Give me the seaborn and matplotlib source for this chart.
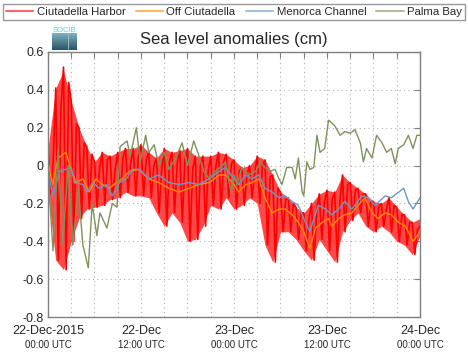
import numpy as np
import pandas as pd
import matplotlib
matplotlib.use('Agg')
import matplotlib.pyplot as plt
from matplotlib.ticker import MultipleLocator
import seaborn as sns

# Sea level anomalies, 22-Dec-2015 00:00 UTC -> 24-Dec-2015 00:00 UTC (hours from start)

# Ciutadella Harbor: 20 min steps
harbor = [
    0.09, -0.15, 0.02,  0.41, -0.50, 0.30,  0.52, -0.55, 0.44,  0.34, -0.40, 0.22,
    0.20, -0.28, 0.12,  0.10, -0.23, 0.06,  0.02, -0.22, -0.01, 0.07, -0.21, 0.03,
    0.05, -0.18, -0.02, 0.07, -0.17, 0.04,  0.09, -0.14, 0.01,  0.09, -0.16, 0.05,
    0.11, -0.16, 0.03,  0.07, -0.17, 0.00,  0.04, -0.25, -0.02, 0.09, -0.32, 0.02,
    0.07, -0.25, 0.01,  0.08, -0.30, 0.03,  0.09, -0.40, -0.02, 0.05, -0.39, 0.00,
    0.05, -0.32, -0.03, 0.05, -0.21, 0.00,  0.07, -0.23, 0.02,  0.06, -0.17, 0.01,
    0.03, -0.23, -0.03, -0.01, -0.21, -0.05, 0.00, -0.17, -0.04, 0.05, -0.20, 0.00,
    0.03, -0.42, -0.06, -0.05, -0.51, -0.12, -0.14, -0.35, -0.18, -0.17, -0.35, -0.20,
    -0.22, -0.39, -0.25, -0.25, -0.45, -0.28, -0.20, -0.50, -0.24, -0.15, -0.39, -0.19,
    -0.13, -0.45, -0.18, -0.14, -0.51, -0.19, -0.05, -0.35, -0.10, -0.09, -0.29, -0.13,
    -0.12, -0.25, -0.15, -0.15, -0.32, -0.19, -0.19, -0.35, -0.22, -0.20, -0.32, -0.23,
    -0.17, -0.35, -0.21, -0.22, -0.40, -0.26, -0.26, -0.42, -0.30, -0.30, -0.47, -0.34,
    -0.32,
]
harbor_h = [i / 3 for i in range(len(harbor))]

# Ciutadella Harbor hourly envelope (upper / lower edge of the band)
harbor_top = [0.09, 0.41, 0.50, 0.34, 0.20, 0.10, 0.02, 0.07, 0.05, 0.07, 0.09, 0.09,
              0.11, 0.07, 0.04, 0.09, 0.07, 0.08, 0.09, 0.05, 0.05, 0.05, 0.07, 0.06,
              0.03, -0.01, 0.00, 0.05, 0.03, -0.05, -0.14, -0.17, -0.22, -0.25, -0.20,
              -0.15, -0.13, -0.14, -0.05, -0.09, -0.12, -0.15, -0.19, -0.20, -0.17,
              -0.22, -0.26, -0.30, -0.28]
harbor_bot = [-0.15, -0.50, -0.55, -0.40, -0.28, -0.23, -0.22, -0.21, -0.18, -0.17,
              -0.14, -0.16, -0.16, -0.17, -0.25, -0.32, -0.25, -0.30, -0.40, -0.39,
              -0.32, -0.21, -0.23, -0.17, -0.23, -0.21, -0.17, -0.20, -0.42, -0.51,
              -0.35, -0.35, -0.39, -0.45, -0.50, -0.39, -0.45, -0.51, -0.35, -0.29,
              -0.25, -0.32, -0.35, -0.32, -0.35, -0.40, -0.42, -0.47, -0.37]
env_h = list(range(49))

off_h = [0, 0.6, 1.3, 2.3, 3.0, 3.6, 4.5, 5.3, 6.2, 7.0, 7.9, 8.8, 9.6, 10.5, 11.7,
         13.0, 14.3, 15.6, 16.9, 18.2, 19.5, 20.8, 22.1, 22.9, 24.0, 24.6, 25.5, 26.3,
         27.2, 28.0, 28.9, 29.8, 30.6, 31.5, 32.3, 33.0, 33.8, 34.5, 35.4, 36.2, 36.6,
         37.5, 38.3, 39.2, 40.0, 40.9, 41.8, 42.6, 43.5, 44.3, 45.2, 46.1, 47.1, 48.0]
off = [0.02, -0.10, 0.04, 0.07, -0.02, -0.09, -0.07, -0.14, -0.07, -0.10, -0.12, -0.09,
       -0.07, -0.03, -0.02, -0.07, -0.09, -0.12, -0.14, -0.12, -0.10, -0.09, -0.05, -0.05,
       -0.10, -0.14, -0.10, -0.09, -0.07, -0.17, -0.25, -0.23, -0.23, -0.26, -0.30, -0.35,
       -0.44, -0.33, -0.30, -0.28, -0.32, -0.28, -0.26, -0.25, -0.21, -0.17, -0.25, -0.28,
       -0.25, -0.26, -0.30, -0.32, -0.40, -0.35]

channel_h = [0, 0.6, 1.5, 2.3, 3.0, 3.4, 4.5, 5.0, 5.8, 6.6, 7.5, 8.3, 9.2, 10.1, 10.9,
             11.8, 13.0, 14.3, 15.6, 16.9, 18.2, 19.5, 20.8, 22.1, 22.9, 24.0, 24.6, 25.5,
             26.3, 27.2, 28.0, 28.9, 29.8, 30.6, 31.5, 32.3, 33.0, 33.8, 34.3, 34.9, 35.8,
             36.6, 37.5, 38.3, 39.2, 40.5, 41.3, 42.2, 43.5, 44.3, 45.9, 46.5, 47.1, 48.0]
channel = [-0.02, -0.16, -0.03, -0.02, -0.01, -0.09, -0.10, -0.14, -0.09, -0.12, -0.10,
           -0.16, -0.09, -0.07, -0.02, -0.02, -0.07, -0.05, -0.09, -0.10, -0.09, -0.10,
           -0.07, -0.03, -0.01, -0.07, -0.10, -0.05, -0.07, -0.05, -0.12, -0.14, -0.17,
           -0.16, -0.19, -0.21, -0.28, -0.35, -0.28, -0.21, -0.23, -0.26, -0.23, -0.19,
           -0.23, -0.16, -0.17, -0.21, -0.16, -0.17, -0.12, -0.19, -0.23, -0.17]

palma_h = [0, 0.26, 0.65, 1.3, 1.9, 2.6, 3.2, 3.9, 4.5, 5.2, 5.7, 6.3, 6.7, 7.6, 8.3, 8.9,
           9.3, 10.2, 10.6, 11.4, 11.9, 12.6, 13.0, 13.7, 14.3, 15.0, 15.6, 16.5, 17.3,
           18.0, 18.8, 19.5, 20.1, 20.8, 21.6, 22.5, 22.9, 23.6, 24.0, 24.4, 25.0, 25.9,
           26.8, 27.4, 28.0, 28.7, 29.3, 29.8, 30.2, 30.8, 31.5, 31.9, 32.3, 32.8, 33.0,
           33.4, 33.8, 34.3, 34.7, 35.1, 35.7, 36.2, 37.0, 37.7, 38.3, 39.0, 39.6, 40.3,
           40.7, 41.1, 41.8, 42.4, 43.1, 43.7, 44.3, 44.8, 45.2, 45.9, 46.5, 47.1, 47.6, 48.0]
palma = [0.00, -0.20, -0.45, 0.08, -0.42, 0.00, -0.42, -0.12, -0.42, -0.54, -0.20, -0.37,
         -0.25, -0.33, -0.20, -0.22, 0.10, 0.13, 0.05, 0.20, 0.02, 0.16, 0.07, 0.11, 0.00,
         0.07, -0.02, 0.04, 0.12, 0.00, 0.13, 0.05, -0.03, -0.07, -0.03, 0.00, 0.02, -0.14,
         -0.05, -0.10, -0.01, -0.05, -0.03, 0.02, -0.01, -0.03, -0.02, -0.07, -0.10, -0.01,
         -0.01, -0.07, 0.04, -0.14, -0.16, 0.02, -0.02, -0.01, 0.16, 0.07, 0.09, 0.24, 0.21,
         0.16, 0.18, 0.17, 0.19, 0.12, 0.02, 0.09, 0.04, 0.16, 0.12, 0.07, 0.09, 0.01, 0.09,
         0.11, 0.16, 0.09, 0.16, 0.16]

tick_hours = [0, 12, 24, 36, 48]
tick_dates = ['22-Dec-2015', '22-Dec', '23-Dec', '23-Dec', '24-Dec']
tick_times = ['00:00 UTC', '12:00 UTC', '00:00 UTC', '12:00 UTC', '00:00 UTC']

series = [
    ('Ciutadella Harbor', harbor_h, harbor, '#ff0000', 1.2),
    ('Off Ciutadella', off_h, off, '#ff8a00', 1.0),
    ('Menorca Channel', channel_h, channel, '#6a98c8', 1.0),
    ('Palma Bay', palma_h, palma, '#7f925a', 1.0),
]

sns.set_style("white")
plt.rcParams['font.family'] = ['Liberation Sans', 'DejaVu Sans']

fig = plt.figure(figsize=(4.68, 3.53), dpi=100)
ax = fig.add_axes([48 / 468, 1 - 317 / 353, 372 / 468, 265 / 353])

# harbor band (dense high-frequency signal)
ax.fill_between(env_h, harbor_bot, harbor_top, color='#ff1a1a', alpha=0.8, linewidth=0)

for name, hh, vv, col, lw in series:
    df = pd.DataFrame({'hour': hh, 'value': vv})
    sns.lineplot(data=df, x='hour', y='value', ax=ax, color=col, linewidth=lw,
                 label=name, estimator=None, sort=False)

ax.set_xlim(0, 48)
ax.set_ylim(-0.8, 0.6)
ax.set_xlabel('')
ax.set_ylabel('')
ax.xaxis.set_major_locator(MultipleLocator(3))
ax.grid(True, linestyle=(0, (1, 3)), color='#b0b0b0', linewidth=0.8)
ax.tick_params(axis='both', direction='in', length=4, color='#808080',
               top=True, right=True, labelsize=9)
ax.set_xticklabels([])
ax.set_yticks([0.6, 0.4, 0.2, 0, -0.2, -0.4, -0.6, -0.8])
ax.set_yticklabels(['0.6', '0.4', '0.2', '0', '-0.2', '-0.4', '-0.6', '-0.8'])
ax.tick_params(axis='y', pad=3)
for sp in ax.spines.values():
    sp.set_color('#808080')
    sp.set_linewidth(1.0)

trans = ax.get_xaxis_transform()
for h, d, t in zip(tick_hours, tick_dates, tick_times):
    ax.text(h, -0.03, d, transform=trans, ha='center', va='top', fontsize=9)
    ax.text(h, -0.085, t, transform=trans, ha='center', va='top', fontsize=7)

ax.set_title('Sea level anomalies (cm)', fontsize=12, pad=6)

handles, labels = ax.get_legend_handles_labels()
ax.legend_.remove()
leg = fig.legend(handles, labels, loc='lower left',
                 bbox_to_anchor=(3 / 468, 1 - 20 / 353, 462 / 468, 17 / 353),
                 mode='expand', ncol=4, fontsize=8.2, frameon=True, fancybox=False,
                 edgecolor='#808080', handlelength=2.4, handletextpad=0.3,
                 columnspacing=0.6, borderpad=0.25, borderaxespad=0.0)
leg.get_frame().set_linewidth(1.0)
for lh in leg.get_lines():
    lh.set_alpha(0.6)
    lh.set_linewidth(1.5)

# SOCIB logo
logo = fig.add_axes([52 / 468, 1 - 50 / 353, 25 / 468, 17 / 353])
grad = np.linspace(0, 1, 20).reshape(-1, 1)
logo.imshow(grad, cmap=sns.blend_palette(['#7fb0c0', '#2a5566'], as_cmap=True),
            aspect='auto', extent=[0, 1, 0, 1])
logo.axvline(0.62, color='#9cc8d4', linewidth=0.6)
logo.set_axis_off()
fig.text(64.5 / 468, 1 - 30 / 353, 'SOCIB', ha='center', va='center', fontsize=5.5,
         color='#6fc3d6')

fig.savefig('out.png', dpi=100)
